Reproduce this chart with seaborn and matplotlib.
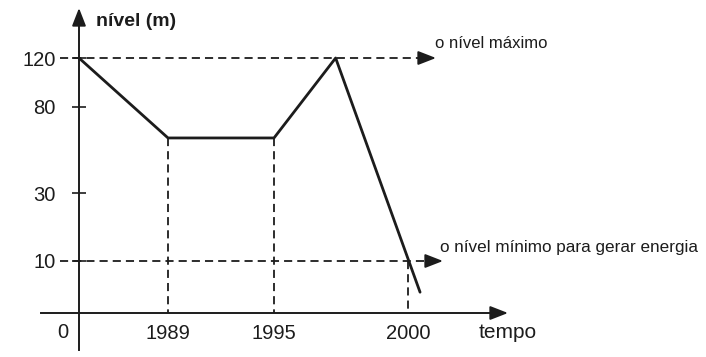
import numpy as np
import matplotlib
matplotlib.use("Agg")
import matplotlib.pyplot as plt
import seaborn as sns

# schematic graph: reservoir level over time
time = [0, 1989, 1995, 1997.3, 2000.45]
level = [120, 62, 62, 120, 4]

year_ticks = [1989, 1995, 2000]
year_labels = ["1989", "1995", "2000"]
level_ticks = [10, 30, 80, 120]
level_labels = ["10", "30", "80", "120"]
level_max = 120
level_min = 10

# the drawing is not to scale: piecewise mapping of the axes
t_knots = np.array([-3000, 0, 1989, 1995, 2000, 2050])
w_knots = np.array([-134.2, 0, 89, 195, 329, 1669])
l_knots = np.array([-100, 0, 10, 30, 80, 120, 300])
h_knots = np.array([-520, 0, 52, 120, 206, 255, 475.5])


def fwd_x(t):
    return np.interp(t, t_knots, w_knots)


def inv_x(w):
    return np.interp(w, w_knots, t_knots)


def fwd_y(v):
    return np.interp(v, l_knots, h_knots)


def inv_y(h):
    return np.interp(h, h_knots, l_knots)


# helpers for placing things in figure pixels (origin at 79, 313)
def px_x(p):
    return float(inv_x(p - 79))


def px_y(p):
    return float(inv_y(313 - p))


sns.set_style("white")
plt.rcParams["font.family"] = ["Liberation Sans", "DejaVu Sans"]

ink = "#1c1c1c"
fig = plt.figure(figsize=(7.06, 3.57), dpi=100)
ax = fig.add_axes([0, 0, 1, 1])
ax.set_xscale("function", functions=(fwd_x, inv_x))
ax.set_yscale("function", functions=(fwd_y, inv_y))
ax.set_xlim(px_x(0), px_x(706))
ax.set_ylim(px_y(357), px_y(0))

# axes with arrows
for s in ["top", "right"]:
    ax.spines[s].set_visible(False)
ax.spines["left"].set_position(("data", 0))
ax.spines["bottom"].set_position(("data", 0))
ax.spines["left"].set_bounds(px_y(350), px_y(20))
ax.spines["bottom"].set_bounds(px_x(41), px_x(497))
for s in ["left", "bottom"]:
    ax.spines[s].set_color(ink)
    ax.spines[s].set_linewidth(1.4)

head = dict(arrowstyle="-|>,head_length=0.9,head_width=0.35", color=ink,
            lw=1.4, shrinkA=0, shrinkB=0, mutation_scale=12)
ax.annotate("", xy=(0, px_y(8)), xytext=(0, -12), textcoords="offset points",
            arrowprops=head)
ax.annotate("", xy=(px_x(508), 0), xytext=(-12, 0), textcoords="offset points",
            arrowprops=head)

ax.set_yticks(level_ticks)
ax.set_yticklabels(level_labels)
ax.set_xticks(year_ticks)
ax.set_xticklabels(year_labels)
ax.minorticks_off()
ax.tick_params(axis="y", left=True, direction="inout", length=10, width=1.2,
               color=ink, pad=12, labelsize=14.5, labelcolor=ink)
ax.tick_params(axis="x", length=0, pad=8, labelsize=14.5, labelcolor=ink)
ax.annotate("0", xy=(0, 0), xytext=(-12, -14), textcoords="offset points",
            ha="center", va="center", fontsize=14.5, color=ink)

# dashed guides
dash = dict(color=ink, lw=1.3, dashes=(4.5, 2.8))
x_left = px_x(60)
ax.plot([x_left, px_x(425)], [level_max, level_max], **dash)
ax.plot([x_left, px_x(432)], [level_min, level_min], **dash)
ax.annotate("", xy=(px_x(436), level_max), xytext=(-11, 0),
            textcoords="offset points", arrowprops=head)
ax.annotate("", xy=(px_x(443), level_min), xytext=(-11, 0),
            textcoords="offset points", arrowprops=head)
ax.plot([time[1], time[1]], [level[1], 0], **dash)
ax.plot([time[2], time[2]], [level[2], 0], **dash)
ax.plot([year_ticks[2], year_ticks[2]], [level_min, 0], **dash)

# level curve
sns.lineplot(x=time, y=level, ax=ax, sort=False, estimator=None,
             color=ink, lw=2.0)

ax.text(px_x(435), px_y(43), "o nível máximo", fontsize=12, color=ink,
        va="center", ha="left")
ax.text(px_x(440), px_y(247), "o nível mínimo para gerar energia",
        fontsize=12.3, color=ink, va="center", ha="left")
ax.text(px_x(96), px_y(21), "nível (m)", fontsize=14, color=ink,
        va="center", ha="left", fontweight="bold")
ax.text(px_x(479), px_y(333), "tempo", fontsize=15, color=ink,
        va="center", ha="left")

fig.savefig("out.png", dpi=100, facecolor="white")
